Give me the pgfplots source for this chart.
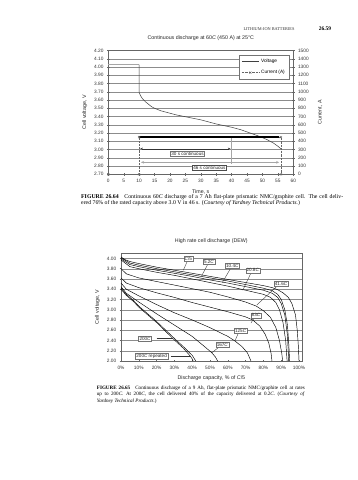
\documentclass[border=0pt]{standalone}
\usepackage{pgfplots}
\pgfplotsset{compat=1.18}
\usepackage{fontspec}
\setmainfont{Liberation Serif}
\newfontfamily\chartfont{Liberation Sans}
\usetikzlibrary{arrows.meta}
\pgfplotsset{
  base/.style={scale only axis, anchor=south west,
    tick label style={font=\chartfont\fontsize{4.8}{5.5}\selectfont, text=black!80},
    /pgf/number format/assume math mode=true,
    /pgf/number format/1000 sep={},
    label style={font=\chartfont\fontsize{5.3}{6}\selectfont, text=black!85},
    title style={font=\chartfont\fontsize{5.3}{6}\selectfont, text=black!85},
    tick align=center, major tick length=2.5pt,
    axis line style={black!60, line width=0.4pt}, tick style={black!60, line width=0.4pt},
    grid style={black!45, line width=0.35pt}},
  crv/.style={black, line width=0.45pt, no marks}
}
\tikzset{
  lbl/.style={draw=black!55, fill=white, inner sep=0.9pt, line width=0.35pt,
    font=\chartfont\fontsize{4.6}{5}\selectfont, text=black!85}
}
\begin{document}
\begin{tikzpicture}
\useasboundingbox (0,0) rectangle (357pt,480pt);
\fill[white] (0,0) rectangle (357pt,480pt);

% running header
\node[anchor=base, font=\fontsize{4.3}{5}\selectfont, text=black!80] at (269pt,449pt) {LITHIUM-ION BATTERIES};
\node[anchor=base, font=\bfseries\fontsize{5.5}{6}\selectfont] at (325pt,449pt) {26.59};

% ---------------- top chart ----------------
\begin{axis}[base, at={(108.3pt,305.7pt)}, width=185pt, height=123.8pt,
  xmin=0, xmax=60, ymin=2.7, ymax=4.2,
  xtick={0,5,10,15,20,25,30,35,40,45,50,55,60},
  ytick={2.7,2.8,2.9,3.0,3.1,3.2,3.3,3.4,3.5,3.6,3.7,3.8,3.9,4.0,4.1,4.2},
  yticklabel style={/pgf/number format/.cd, fixed, fixed zerofill, precision=2},
  xtick pos=left, ytick pos=left, ymajorgrids,
  axis y line*=left,
  title={Continuous discharge at 60\textit{C} (450 A) at 25\textdegree C},
  xlabel={Time, s}, ylabel={Cell voltage, V},
  legend style={at={(0.977,0.964)}, anchor=north east, draw=black!55,
    font=\chartfont\fontsize{4.8}{5.5}\selectfont, fill=white,
    row sep=2pt, inner sep=2pt, cells={anchor=west}},
  clip=false]
\addplot[gray!70, line width=1.1pt, forget plot] coordinates {(0,4.03) (10,4.03)};
\addplot[black!75, line width=0.5pt] coordinates {
 (10,4.03) (10,3.69) (10.5,3.65) (11,3.62) (12,3.58) (13,3.55) (14,3.52) (15,3.50)
 (17,3.47) (19,3.45) (22,3.42) (26,3.39) (30,3.36) (35,3.31) (40,3.27) (43,3.24)
 (46,3.20) (49,3.16) (51.5,3.12) (53.5,3.08) (55,3.04) (56,3.01)};
\addlegendentry{Voltage}
\addlegendimage{black!60, densely dotted, mark=x, mark size=1.5pt, mark options={solid}}
\addlegendentry{Current (A)}
% annotations
\draw[black!80, line width=0.4pt, {Stealth[length=2.5pt,width=2pt]}-{Stealth[length=2.5pt,width=2pt]}]
  (axis cs:10.4,3.01) -- (axis cs:39.6,3.01);
\draw[gray!70, line width=1pt] (axis cs:40,3.15) -- (axis cs:40,2.83);
\draw[gray!70, line width=1pt, {Stealth[length=3pt,width=2.6pt]}-{Stealth[length=3pt,width=2.6pt]}]
  (axis cs:10.6,2.845) -- (axis cs:55.4,2.845);
\node[lbl] at (axis cs:25.7,2.945) {30 s continuous};
\node[lbl, draw=black!70] at (axis cs:32.8,2.78) {46 s continuous};
\end{axis}

\begin{axis}[base, at={(108.3pt,305.7pt)}, width=185pt, height=123.8pt,
  xmin=0, xmax=60, ymin=0, ymax=1500,
  ytick={0,100,200,300,400,500,600,700,800,900,1000,1100,1200,1300,1400,1500},
  axis x line=none, axis y line*=right, clip=false]
\addplot[black!60, densely dotted, line width=0.45pt, mark=x, mark size=1.5pt, mark options={solid}]
  coordinates {(0,0) (10,0) (10,450) (56,450) (56,0)};
\addplot[black, line width=2.6pt, no marks] coordinates {(10,450) (55.3,450)};
\end{axis}
\node[rotate=90, font=\chartfont\fontsize{5.3}{6}\selectfont, text=black!85] at (320pt,367.6pt) {Current, A};

% caption 1
\node[anchor=north west, inner sep=0pt, text width=262pt, align=justify,
  font=\fontsize{5.8}{6.2}\selectfont] at (81pt,285.5pt)
{\textbf{FIGURE 26.64}\quad Continuous 60\textit{C} discharge of a 7 Ah flat-plate prismatic NMC/graphite cell. The cell deliv-\linebreak
ered 76\% of the rated capacity above 3.0 V in 46 s. (\textit{Courtesy of Yardney Technical Products.})};

% ---------------- bottom chart ----------------
\begin{axis}[base, at={(121pt,119pt)}, width=180.7pt, height=107.7pt,
  xmin=0, xmax=101.5, ymin=2, ymax=4.1,
  xtick={0,10,20,30,40,50,60,70,80,90,100},
  ytick={2,2.2,2.4,2.6,2.8,3,3.2,3.4,3.6,3.8,4},
  xticklabel={\pgfmathprintnumber{\tick}\%},
  yticklabel style={/pgf/number format/.cd, fixed, fixed zerofill, precision=2},
  xtick pos=left, ytick pos=left, ymajorgrids,
  title={High rate cell discharge (DEW)},
  xlabel={Discharge capacity, \% of \textit{C}/5}, ylabel={Cell voltage, V},
  clip=false]
% C/5
\addplot[crv] coordinates {(0,4.03) (2,3.98) (5,3.94) (10,3.90) (20,3.83) (30,3.77) (40,3.71) (50,3.65) (60,3.59) (70,3.53) (80,3.47) (85,3.43) (88,3.39) (91,3.33) (94,3.24) (96,3.12) (98,2.90) (99,2.60) (99.6,2.30) (100,2.0)};
% 5.2C
\addplot[crv] coordinates {(0,4.01) (5,3.91) (10,3.87) (20,3.80) (30,3.74) (40,3.68) (50,3.62) (60,3.56) (70,3.49) (80,3.42) (85,3.37) (88,3.30) (90,3.20) (92,3.00) (93.5,2.70) (94.3,2.30) (94.7,2.0)};
% 10.4C
\addplot[crv] coordinates {(0,3.99) (5,3.88) (10,3.84) (20,3.77) (30,3.71) (40,3.65) (50,3.58) (60,3.52) (70,3.45) (80,3.38) (85,3.32) (88,3.24) (90,3.12) (92,2.90) (93.5,2.50) (94.2,2.0)};
% 20.8C
\addplot[crv] coordinates {(0,3.97) (5,3.84) (10,3.80) (20,3.73) (30,3.67) (40,3.60) (50,3.53) (60,3.46) (70,3.38) (80,3.30) (84,3.24) (87,3.14) (89,3.00) (91,2.75) (92.5,2.40) (93.3,2.0)};
% 41.6C
\addplot[crv] coordinates {(0,3.80) (3,3.70) (10,3.62) (20,3.55) (30,3.48) (40,3.41) (50,3.34) (60,3.25) (70,3.15) (76,3.07) (80,2.98) (84,2.85) (87,2.65) (89,2.40) (90.3,2.15) (90.8,2.0)};
% 83C
\addplot[crv] coordinates {(0,3.62) (3,3.52) (10,3.43) (20,3.33) (30,3.24) (40,3.14) (50,3.05) (60,2.96) (70,2.86) (74,2.80) (78,2.68) (81,2.52) (83,2.35) (84.3,2.15) (84.8,2.0)};
% 125C
\addplot[crv] coordinates {(0,3.52) (3,3.40) (10,3.27) (20,3.10) (30,2.94) (40,2.80) (50,2.65) (60,2.48) (64,2.39) (68,2.28) (71,2.16) (73,2.0)};
% 167C
\addplot[crv] coordinates {(0,3.45) (3,3.32) (10,3.15) (20,2.92) (30,2.70) (40,2.48) (48,2.25) (51,2.16) (53,2.08) (54.3,2.0)};
% 200C
\addplot[crv] coordinates {(0,3.42) (3,3.30) (7,3.18) (10,3.07) (20,2.77) (30,2.44) (35,2.28) (40,2.11) (42,2.0)};
% 200C repeated
\addplot[crv] coordinates {(0,3.40) (3,3.28) (7,3.16) (10,3.05) (20,2.75) (30,2.41) (35,2.25) (38.8,2.10) (40,2.04) (40.5,2.0)};
% labels and leaders
\draw[black!80, line width=0.35pt] (axis cs:37.3,3.95) -- (axis cs:35,3.77);
\draw[black!80, line width=0.35pt] (axis cs:48.8,3.89) -- (axis cs:45.3,3.66);
\draw[black!80, line width=0.35pt] (axis cs:61.8,3.82) -- (axis cs:56.9,3.53);
\draw[black!80, line width=0.35pt] (axis cs:73.2,3.73) -- (axis cs:68.4,3.38);
\draw[black!80, line width=0.35pt] (axis cs:88,3.47) -- (axis cs:76.2,3.09);
\draw[black!80, line width=0.35pt] (axis cs:75,2.85) -- (axis cs:73,2.74);
\draw[black!80, line width=0.35pt] (axis cs:66,2.55) -- (axis cs:64,2.39);
\draw[black!80, line width=0.35pt] (axis cs:55,2.27) -- (axis cs:51,2.16);
\draw[black!80, line width=0.35pt] (axis cs:20,2.44) -- (axis cs:29.4,2.44);
\draw[black!80, line width=0.35pt] (axis cs:28,2.10) -- (axis cs:38.8,2.10);
\node[lbl] at (axis cs:37.8,3.99) {\textit{C}/5};
\node[lbl] at (axis cs:49.4,3.93) {5.2\textit{C}};
\node[lbl] at (axis cs:62.5,3.86) {10.4\textit{C}};
\node[lbl] at (axis cs:74,3.77) {20.8\textit{C}};
\node[lbl] at (axis cs:89.9,3.51) {41.6\textit{C}};
\node[lbl] at (axis cs:75.8,2.89) {83\textit{C}};
\node[lbl] at (axis cs:67.2,2.59) {125\textit{C}};
\node[lbl] at (axis cs:56.9,2.31) {167\textit{C}};
\node[lbl] at (axis cs:13.5,2.43) {200\textit{C}};
\node[lbl] at (axis cs:17.2,2.10) {200\textit{C} repeated};
\end{axis}

% caption 2
\node[anchor=north west, inner sep=0pt, text width=208pt, align=justify,
  font=\fontsize{5.1}{6.4}\selectfont] at (96.7pt,94.5pt)
{\textbf{FIGURE 26.65}\quad Continuous discharge of a 9 Ah, flat-plate prismatic NMC/graphite cell at rates\linebreak
up to 200\textit{C}. At 200\textit{C}, the cell delivered 40\% of the capacity delivered at 0.2\textit{C}. (\textit{Courtesy of}\linebreak
\textit{Yardney Technical Products.})};
\end{tikzpicture}
\end{document}
